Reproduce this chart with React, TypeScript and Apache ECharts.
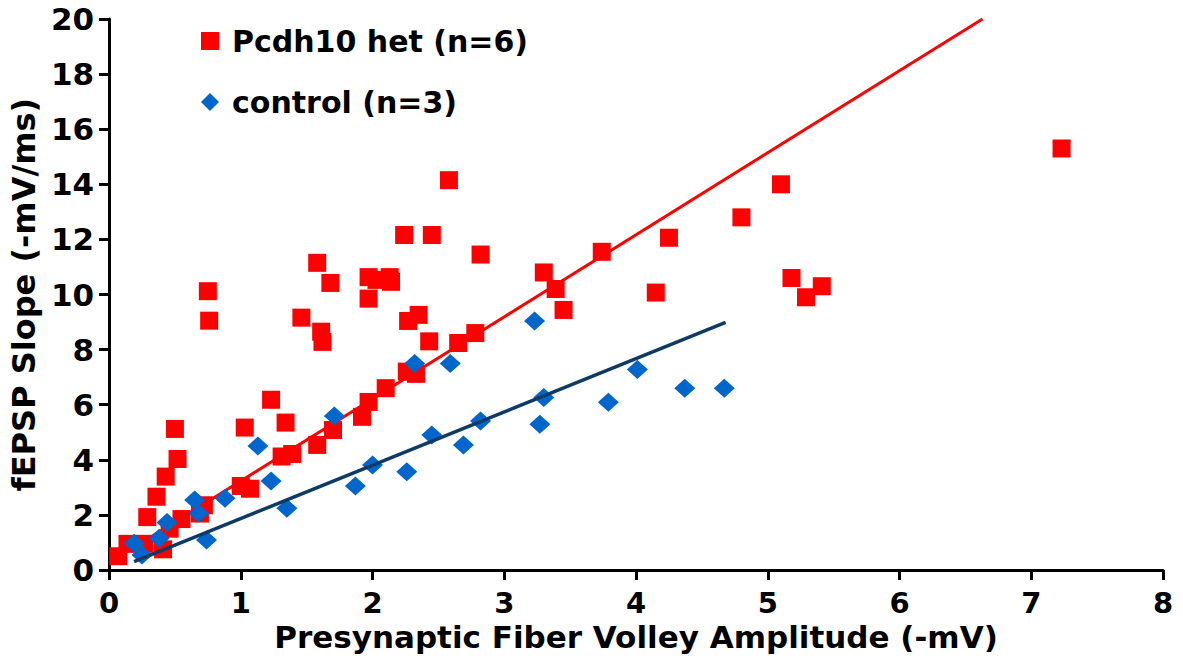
import React, { useEffect, useRef } from "react";
import * as echarts from "echarts";

const xTicks = [0, 1, 2, 3, 4, 5, 6, 7, 8];
const yTicks = [0, 2, 4, 6, 8, 10, 12, 14, 16, 18, 20];

const hetName = "Pcdh10 het (n=6)";
const ctrlName = "control (n=3)";

const hetPoints: [number, number][] = [
  [0.07, 0.5], [0.14, 0.95], [0.27, 0.95], [0.29, 1.92], [0.36, 2.66], [0.43, 3.39],
  [0.5, 5.12], [0.52, 4.03], [0.41, 0.75], [0.46, 1.5], [0.55, 1.85], [0.69, 2.05],
  [0.72, 2.35], [0.75, 10.12], [0.76, 9.05], [1.0, 3.05], [1.07, 2.95], [1.03, 5.17],
  [1.23, 6.18], [1.34, 5.35], [1.31, 4.12], [1.39, 4.21], [1.46, 9.16], [1.58, 11.15],
  [1.61, 8.65], [1.62, 8.28], [1.68, 10.42], [1.58, 4.54], [1.7, 5.08], [1.92, 5.56],
  [1.97, 6.1], [1.97, 9.85], [1.97, 10.63], [2.03, 10.53], [2.13, 10.63], [2.14, 10.46],
  [2.1, 6.6], [2.24, 12.16], [2.27, 9.04], [2.26, 7.2], [2.33, 7.12], [2.35, 9.26],
  [2.43, 8.3], [2.45, 12.16], [2.58, 14.15], [2.65, 8.24], [2.78, 8.6], [2.82, 11.45],
  [3.3, 10.8], [3.39, 10.2], [3.45, 9.44], [3.74, 11.55], [4.15, 10.07], [4.25, 12.06],
  [4.8, 12.8], [5.1, 14.0], [5.18, 10.6], [5.29, 9.9], [5.41, 10.3], [7.23, 15.3],
];

const ctrlPoints: [number, number][] = [
  [0.19, 0.97], [0.25, 0.54], [0.38, 1.15], [0.44, 1.72], [0.65, 2.54], [0.68, 2.06],
  [0.74, 1.09], [0.88, 2.6], [1.13, 4.5], [1.23, 3.23], [1.35, 2.24], [1.71, 5.59],
  [1.87, 3.05], [2.0, 3.81], [2.26, 3.57], [2.32, 7.5], [2.45, 4.9], [2.59, 7.5],
  [2.69, 4.54], [2.82, 5.41], [3.23, 9.04], [3.27, 5.29], [3.3, 6.26], [3.79, 6.09],
  [4.01, 7.28], [4.37, 6.6], [4.67, 6.6],
];

const hetFit: [number, number][] = [[0.14, 0.67], [6.63, 20]];
const ctrlFit: [number, number][] = [[0.19, 0.3], [4.68, 8.99]];

const FONT = "DejaVu Sans";

export default function App() {
  const ref = useRef<HTMLDivElement>(null);
  useEffect(() => {
    if (!ref.current) return;
    const chart = echarts.init(ref.current, undefined, { renderer: "svg" });
    const axisCommon = {
      axisLine: { show: true, lineStyle: { color: "#000", width: 3 } },
      axisTick: { show: true, length: 10, lineStyle: { color: "#000", width: 3 } },
      splitLine: { show: false },
      nameLocation: "middle" as const,
      nameTextStyle: { fontFamily: FONT, fontWeight: "bold" as const, fontSize: 31, color: "#000" },
    };
    chart.setOption({
      animation: false,
      backgroundColor: "#fff",
      grid: { left: 107, right: 20, top: 19, bottom: 92, containLabel: false },
      legend: {
        orient: "vertical",
        left: 196,
        top: 21,
        itemWidth: 18,
        itemHeight: 18,
        itemGap: 31,
        textStyle: { fontFamily: FONT, fontWeight: "bold", fontSize: 30, color: "#000", padding: [0, 0, 0, 8] },
        data: [
          { name: hetName, icon: "rect" },
          { name: ctrlName, icon: "diamond" },
        ],
      },
      xAxis: {
        ...axisCommon,
        type: "value",
        min: xTicks[0],
        max: xTicks[xTicks.length - 1],
        interval: 1,
        name: "Presynaptic Fiber Volley Amplitude (-mV)",
        nameGap: 51,
        axisLabel: { fontFamily: FONT, fontWeight: "bold", fontSize: 29, color: "#000", margin: 18 },
      },
      yAxis: {
        ...axisCommon,
        type: "value",
        min: yTicks[0],
        max: yTicks[yTicks.length - 1],
        interval: 2,
        name: "fEPSP Slope (-mV/ms)",
        nameGap: 62,
        nameTextStyle: { fontFamily: FONT, fontWeight: "bold", fontSize: 32, color: "#000" },
        axisLabel: { fontFamily: FONT, fontWeight: "bold", fontSize: 31, color: "#000", margin: 15 },
      },
      series: [
        {
          name: "het fit",
          type: "line",
          data: hetFit,
          symbol: "none",
          lineStyle: { color: "#FF0000", width: 3 },
          z: 1,
        },
        {
          name: "control fit",
          type: "line",
          data: ctrlFit,
          symbol: "none",
          lineStyle: { color: "#0D3A66", width: 3.5 },
          z: 4,
        },
        {
          name: hetName,
          type: "scatter",
          data: hetPoints,
          symbol: "rect",
          symbolSize: 18,
          itemStyle: { color: "#FF0000", opacity: 1 },
          z: 2,
        },
        {
          name: ctrlName,
          type: "scatter",
          data: ctrlPoints,
          symbol: "diamond",
          symbolSize: [21, 19],
          itemStyle: { color: "#0066CC", opacity: 1 },
          z: 3,
        },
      ],
    });
    return () => chart.dispose();
  }, []);
  return (
    <div
      ref={ref}
      style={{ position: "fixed", left: 0, top: 0, width: 1183, height: 662, background: "#fff" }}
    />
  );
}
